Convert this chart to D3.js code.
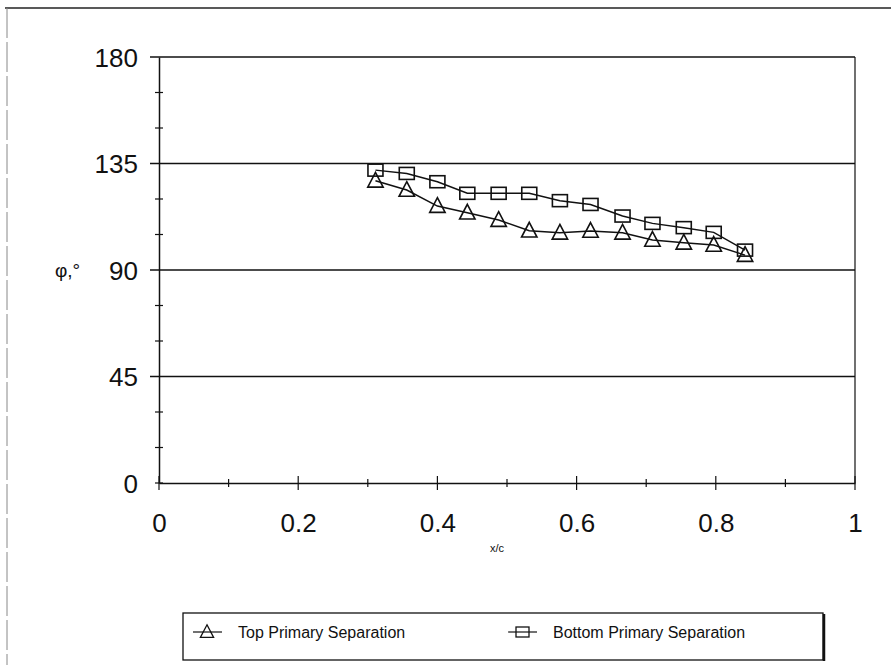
<!DOCTYPE html>
<html>
<head>
<meta charset="utf-8">
<script src="https://cdn.jsdelivr.net/npm/d3@7"></script>
<style>
  body { margin: 0; background: #fff; }
  text { font-family: "Liberation Sans", Arial, sans-serif; fill: #111; }
</style>
</head>
<body>
<div id="chart"></div>
<script>
// data
var xc = [0.311, 0.356, 0.400, 0.443, 0.488, 0.532, 0.576, 0.620, 0.666, 0.709, 0.754, 0.797, 0.842]
var topSep = [127.7, 123.8, 117.0, 114.2, 111.1, 106.6, 105.7, 106.5, 105.7, 102.7, 101.5, 100.6, 96.3]
var bottomSep = [132.2, 130.8, 127.3, 122.4, 122.4, 122.4, 119.3, 117.7, 112.8, 109.7, 107.9, 105.9, 98.4]
var xTicks = [0, 0.2, 0.4, 0.6, 0.8, 1]
var xMinor = [0.1, 0.3, 0.5, 0.7, 0.9]
var yTicks = [0, 45, 90, 135, 180]
var yMinor = [15, 30, 60, 75, 105, 120, 150, 165]
var seriesNames = ["Top Primary Separation", "Bottom Primary Separation"]

var width = 891
var height = 665

var svg = d3.select("#chart").append("svg")
	.attr("width", width)
	.attr("height", height)

var x = d3.scaleLinear().domain([0, 1]).range([159, 855])
var y = d3.scaleLinear().domain([0, 180]).range([483, 57])

// scan frame
svg.append("line").attr("x1", 5).attr("x2", 891).attr("y1", 8).attr("y2", 8)
	.attr("stroke", "#222").attr("stroke-width", 1.5)
svg.append("line").attr("x1", 7).attr("x2", 7).attr("y1", 8).attr("y2", 665)
	.attr("stroke", "#888").attr("stroke-width", 1).attr("stroke-dasharray", "30,4")

// gridlines
svg.append("g").selectAll("line").data(yTicks.filter(d => d > 0)).join("line")
	.attr("x1", x(0) - 9).attr("x2", x(1))
	.attr("y1", d => y(d)).attr("y2", d => y(d))
	.attr("stroke", "#111").attr("stroke-width", 1.3)

// right border
svg.append("line").attr("x1", x(1)).attr("x2", x(1)).attr("y1", y(180)).attr("y2", y(0))
	.attr("stroke", "#111").attr("stroke-width", 1.2)

// axes
var xAxis = svg.append("g")
	.attr("transform", "translate(0," + y(0) + ")")
	.call(d3.axisBottom(x).tickValues(xTicks).tickSize(0).tickPadding(49).tickFormat(d3.format("")))
xAxis.select(".domain").attr("stroke", "#111").attr("stroke-width", 1.5)
xAxis.selectAll("text").style("font-size", "26px").attr("dy", "0")

var yAxis = svg.append("g")
	.attr("transform", "translate(" + x(0) + ",0)")
	.call(d3.axisLeft(y).tickValues(yTicks).tickSize(0).tickPadding(21))
yAxis.select(".domain").attr("stroke", "#111").attr("stroke-width", 1.5)
yAxis.selectAll("text").style("font-size", "26px").attr("dy", "0.36em")

// cross tick marks
svg.append("g").selectAll("line").data(xTicks.concat(xMinor)).join("line")
	.attr("x1", d => x(d)).attr("x2", d => x(d))
	.attr("y1", d => y(0) - (xMinor.includes(d) ? 4 : 7))
	.attr("y2", d => y(0) + (xMinor.includes(d) ? 4 : 7))
	.attr("stroke", "#111").attr("stroke-width", 1.2)
svg.append("g").selectAll("line").data(yMinor.concat([0])).join("line")
	.attr("x1", x(0) - 4).attr("x2", x(0) + 4)
	.attr("y1", d => y(d)).attr("y2", d => y(d))
	.attr("stroke", "#111").attr("stroke-width", 1.2)

// axis titles
svg.append("text").attr("x", 497).attr("y", 552)
	.attr("text-anchor", "middle").style("font-size", "11px").text("x/c")
svg.append("text").attr("x", 55).attr("y", y(90)).attr("dy", "0.36em")
	.style("font-size", "19px").text("φ,°")

// series
var line = d3.line().x(d => x(d[0])).y(d => y(d[1]))
var topPts = xc.map((d, i) => [d, topSep[i]])
var botPts = xc.map((d, i) => [d, bottomSep[i]])

function tri(cx, cy, s) {
	return "M" + cx + "," + (cy - s * 0.6) + "L" + (cx + s * 0.55) + "," + (cy + s * 0.45) +
		"L" + (cx - s * 0.55) + "," + (cy + s * 0.45) + "Z"
}

svg.append("path").datum(topPts).attr("d", line)
	.attr("fill", "none").attr("stroke", "#111").attr("stroke-width", 1.5)
svg.append("path").datum(botPts).attr("d", line)
	.attr("fill", "none").attr("stroke", "#111").attr("stroke-width", 1.5)

svg.append("g").selectAll("path").data(topPts).join("path")
	.attr("d", d => tri(x(d[0]), y(d[1]), 14))
	.attr("fill", "none").attr("stroke", "#111").attr("stroke-width", 1.6)
svg.append("g").selectAll("rect").data(botPts).join("rect")
	.attr("x", d => x(d[0]) - 7.5).attr("y", d => y(d[1]) - 6)
	.attr("width", 15).attr("height", 12)
	.attr("fill", "none").attr("stroke", "#111").attr("stroke-width", 1.6)

// legend
var lg = svg.append("g")
lg.append("rect").attr("x", 183).attr("y", 613).attr("width", 640).attr("height", 47)
	.attr("fill", "#fff").attr("stroke", "#111").attr("stroke-width", 1.3)
lg.append("line").attr("x1", 824).attr("x2", 824).attr("y1", 614).attr("y2", 661)
	.attr("stroke", "#111").attr("stroke-width", 2.5)

lg.append("line").attr("x1", 193).attr("x2", 222).attr("y1", 632).attr("y2", 632)
	.attr("stroke", "#111").attr("stroke-width", 1.2)
lg.append("path").attr("d", tri(207, 632, 12))
	.attr("fill", "none").attr("stroke", "#111").attr("stroke-width", 1.3)
lg.append("text").attr("x", 238).attr("y", 632).attr("dy", "0.35em")
	.style("font-size", "16px").text(seriesNames[0])

lg.append("line").attr("x1", 508).attr("x2", 537).attr("y1", 632).attr("y2", 632)
	.attr("stroke", "#111").attr("stroke-width", 1.2)
lg.append("rect").attr("x", 516).attr("y", 627).attr("width", 13).attr("height", 10)
	.attr("fill", "none").attr("stroke", "#111").attr("stroke-width", 1.3)
lg.append("text").attr("x", 553).attr("y", 632).attr("dy", "0.35em")
	.style("font-size", "16px").text(seriesNames[1])
</script>
</body>
</html>
